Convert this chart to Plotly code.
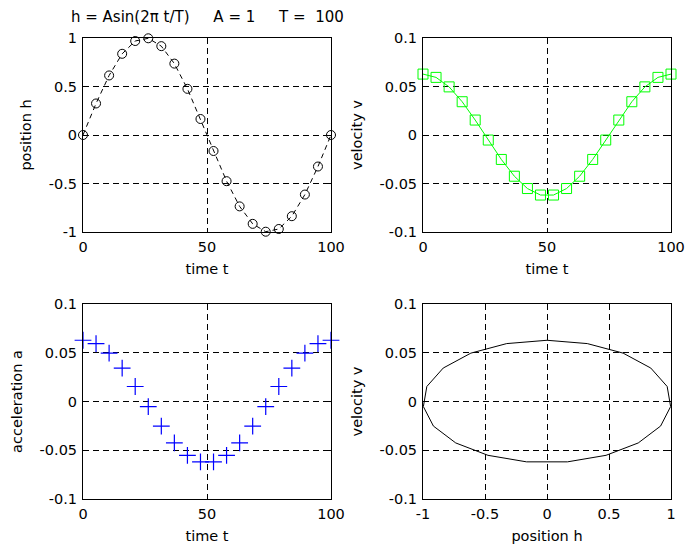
import plotly.graph_objects as go

# ---- data ----
time_t = [0, 5.26, 10.53, 15.79, 21.05, 26.32, 31.58, 36.84, 42.11, 47.37,
          52.63, 57.89, 63.16, 68.42, 73.68, 78.95, 84.21, 89.47, 94.74, 100]
position_h = [0, 0.325, 0.614, 0.837, 0.969, 0.997, 0.916, 0.736, 0.476, 0.165,
              -0.165, -0.476, -0.736, -0.916, -0.997, -0.969, -0.837, -0.614, -0.325, 0]
velocity_v = [0.0628, 0.0594, 0.0496, 0.0343, 0.0154, -0.0052, -0.0252, -0.0425, -0.0552, -0.0619,
              -0.0619, -0.0552, -0.0425, -0.0252, -0.0052, 0.0154, 0.0343, 0.0496, 0.0594, 0.0628]
acceleration_a = [0.0628, 0.0594, 0.0496, 0.0343, 0.0154, -0.0052, -0.0252, -0.0425, -0.0552, -0.0619,
                  -0.0619, -0.0552, -0.0425, -0.0252, -0.0052, 0.0154, 0.0343, 0.0496, 0.0594, 0.0628]

t_ticks = [0, 50, 100]
t_labels = ["0", "50", "100"]
h_ticks = [-1, -0.5, 0, 0.5, 1]
h_labels = ["-1", "-0.5", "0", "0.5", "1"]
v_ticks = [-0.1, -0.05, 0, 0.05, 0.1]
v_labels = ["-0.1", "-0.05", "0", "0.05", "0.1"]

title_text = "h = Asin(2\u03c0 t/T)\u00a0\u00a0\u00a0\u00a0\u00a0A = 1\u00a0\u00a0\u00a0\u00a0\u00a0T =\u00a0\u00a0100"

FONT = "DejaVu Sans"
FS = 14.5

W, H = 687, 551
xd1 = [83 / W, 331 / W]
xd2 = [423 / W, 671 / W]
yd_top = [1 - 232 / H, 1 - 38 / H]
yd_bot = [1 - 499 / H, 1 - 304 / H]

fig = go.Figure()

fig.add_trace(go.Scatter(
    x=time_t, y=position_h, mode="lines+markers", xaxis="x", yaxis="y",
    line=dict(color="black", width=1, dash="5px,4px"),
    marker=dict(symbol="circle-open", size=9, color="black", line=dict(width=1)),
    cliponaxis=False, showlegend=False))

fig.add_trace(go.Scatter(
    x=time_t, y=velocity_v, mode="lines+markers", xaxis="x2", yaxis="y2",
    line=dict(color="#00ff00", width=1),
    marker=dict(symbol="square-open", size=10, color="#00ff00", line=dict(width=1)),
    cliponaxis=False, showlegend=False))

fig.add_trace(go.Scatter(
    x=time_t, y=acceleration_a, mode="markers", xaxis="x3", yaxis="y3",
    marker=dict(symbol="cross-thin-open", size=12, color="#0000ff",
                line=dict(width=1.2, color="#0000ff")),
    cliponaxis=False, showlegend=False))

fig.add_trace(go.Scatter(
    x=position_h, y=velocity_v, mode="lines", xaxis="x4", yaxis="y4",
    line=dict(color="black", width=1),
    cliponaxis=False, showlegend=False))


def ax(domain, anchor, rng, tv, tt, title, standoff):
    return dict(
        domain=domain, anchor=anchor, range=rng,
        tickmode="array", tickvals=tv, ticktext=tt,
        showline=True, linecolor="black", linewidth=1, mirror="allticks",
        ticks="inside", ticklen=4, tickcolor="black", tickwidth=1,
        showgrid=True, gridcolor="black", gridwidth=1, griddash="6px,4px",
        zeroline=False, ticklabelstandoff=2,
        tickfont=dict(family=FONT, size=FS, color="black"),
        title=dict(text=title, font=dict(family=FONT, size=FS, color="black"),
                   standoff=standoff),
        automargin=False, fixedrange=True,
    )


layout = dict(
    width=W, height=H,
    margin=dict(l=0, r=0, t=0, b=0),
    paper_bgcolor="white", plot_bgcolor="white",
    showlegend=False,
    xaxis=ax(xd1, "y", [0, 100], t_ticks, t_labels, "time t", 9),
    yaxis=ax(yd_top, "x", [-1, 1], h_ticks, h_labels, "position h", 13),
    xaxis2=ax(xd2, "y2", [0, 100], t_ticks, t_labels, "time t", 9),
    yaxis2=ax(yd_top, "x2", [-0.1, 0.1], v_ticks, v_labels, "velocity v", 13),
    xaxis3=ax(xd1, "y3", [0, 100], t_ticks, t_labels, "time t", 9),
    yaxis3=ax(yd_bot, "x3", [-0.1, 0.1], v_ticks, v_labels, "acceleration a", 13),
    xaxis4=ax(xd2, "y4", [-1, 1], h_ticks, h_labels, "position h", 9),
    yaxis4=ax(yd_bot, "x4", [-0.1, 0.1], v_ticks, v_labels, "velocity v", 13),
    annotations=[dict(
        text=title_text, xref="paper", yref="paper",
        x=(xd1[0] + xd1[1]) / 2, y=1 - 17 / H, xanchor="center", yanchor="middle",
        showarrow=False, font=dict(family=FONT, size=15, color="black"))],
)
fig.update_layout(**layout)

fig.write_html("out.html")
